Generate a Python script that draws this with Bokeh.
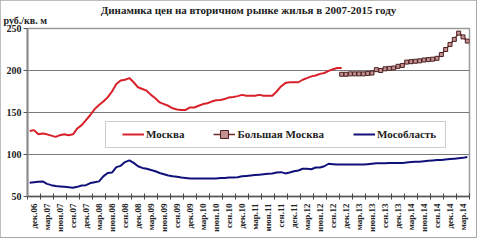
from bokeh.plotting import figure
from bokeh.models import (FixedTicker, Legend, LegendItem, Label, BoxAnnotation,
                          Range1d, ColumnDataSource, Title)
from bokeh.embed import file_html
from bokeh.resources import INLINE

# ---- data (roubles per sq. m, thousands), monthly from дек.06 ----
moscow = [128, 129, 124, 125, 124, 122.5, 121, 123, 124, 123,
          124, 131, 135, 141, 147, 154, 159, 163, 168, 175,
          184, 188, 189, 191, 186, 180, 178, 176, 171, 167,
          162, 160, 158, 155, 153.5, 153, 153, 156, 156, 158,
          160, 161, 163, 164.5, 165, 166, 168, 168.5, 169.5, 171,
          170, 170, 170, 171, 170, 170, 170, 175, 181, 185,
          186, 186, 186, 189, 191, 193, 194, 196, 197, 199.5,
          201.5, 203, 203]
big_moscow_start = 72
big_moscow = [195.5, 195.5, 196, 196, 196, 196, 196.5, 197, 201, 200,
              202, 202.5, 203, 205, 206, 210, 210.5, 211, 211.5, 212.5,
              213, 213.5, 214.5, 219, 225, 231, 237, 244.5, 240, 235]
oblast = [66.5, 67, 67.5, 68, 65, 63.5, 62.5, 62, 61.5, 61,
          60.5, 61.5, 63, 63.5, 66, 67, 68, 74, 78, 78.5,
          85, 86.5, 91, 93, 90, 86, 84, 83, 81.5, 80,
          78, 76.5, 75, 74, 73.5, 72.5, 72, 71.5, 71.5, 71.5,
          71.5, 71.5, 71.5, 71.5, 72, 72, 72.5, 72.5, 73, 74,
          74.5, 75, 75.5, 76, 76.5, 77, 77.5, 78.5, 79, 77.5,
          78.5, 80, 81, 83, 83, 82.5, 84.5, 84.5, 86, 89,
          88.5, 88, 88, 88, 88, 88, 88, 88, 88.5, 89,
          89.5, 89.5, 89.5, 90, 90, 90, 90, 90.5, 91, 91.5,
          91.5, 92, 92.5, 93, 93.5, 93.5, 94, 94.5, 95, 95.5,
          96, 97]
tick_labels = ["дек.06", "мар.07", "июн.07", "сен.07", "дек.07", "мар.08", "июн.08",
               "сен.08", "дек.08", "мар.09", "июн.09", "сен.09", "дек.09", "мар.10",
               "июн.10", "сен.10", "дек.10", "мар.11", "июн.11", "сен.11", "дек.11",
               "мар.12", "июн.12", "сен.12", "дек.12", "мар.13", "июн.13", "сен.13",
               "дек.13", "мар.14", "июн.14", "сен.14", "дек.14", "мар.14"]
y_ticks = [50, 100, 150, 200, 250]
series_names = ["Москва", "Большая Москва", "Мособласть"]
title_text = "Динамика цен на вторичном рынке жилья в 2007-2015 году"
unit_text = "руб./кв. м"

SERIF = "Liberation Serif, Times New Roman, serif"
n_months = len(oblast)

p = figure(width=476, height=237, output_backend="svg", toolbar_location=None,
           x_range=Range1d(0, n_months), y_range=Range1d(50, 250),
           min_border_left=27, min_border_right=7, min_border_top=27,
           min_border_bottom=41)
p.styles = {"outline": "2px solid #a8a8a8", "outline-offset": "-1px"}
p.background_fill_color = "white"
p.border_fill_color = "white"
p.outline_line_color = "#9a9a9a"
p.outline_line_width = 1.5

p.title = Title(text=title_text, align="center", text_font=SERIF,
                text_font_style="bold", text_font_size="11px",
                text_color="#222222", standoff=3)

src_m = ColumnDataSource(dict(x=[i + 0.5 for i in range(len(moscow))], y=moscow))
src_b = ColumnDataSource(dict(x=[big_moscow_start + i + 0.5 for i in range(len(big_moscow))],
                              y=big_moscow))
src_o = ColumnDataSource(dict(x=[i + 0.5 for i in range(len(oblast))], y=oblast))

# legend frame (drawn under the legend items)
box = BoxAnnotation(left=78, right=418, bottom=49, top=75,
                    left_units="screen", right_units="screen",
                    bottom_units="screen", top_units="screen",
                    fill_color="white", fill_alpha=1.0,
                    line_color="#555555", line_width=1)
p.add_layout(box)

r_m = p.line("x", "y", source=src_m, line_color="#d8202a", line_width=2)
r_o = p.line("x", "y", source=src_o, line_color="#10107a", line_width=2)
r_bl = p.line("x", "y", source=src_b, line_color="#6e2a2a", line_width=1.5)
r_bs = p.scatter("x", "y", source=src_b, marker="square", size=4,
                 fill_color="#c49090", line_color="#4a2020", line_width=1)

# axes
ticks_major = [3 * k + 1.5 for k in range(len(tick_labels))]
ticks_minor = [3 * k for k in range(len(tick_labels) + 1)]
xa = p.xaxis[0]
xa.ticker = FixedTicker(ticks=ticks_major, minor_ticks=ticks_minor)
xa.major_label_overrides = {t: lab for t, lab in zip(ticks_major, tick_labels)}
xa.major_label_orientation = 3.14159265 / 2
xa.major_tick_in = 0
xa.major_tick_out = 0
xa.minor_tick_in = 3
xa.minor_tick_out = 3
xa.minor_tick_line_color = "#444444"
xa.axis_line_color = "#555555"
xa.axis_line_width = 1.5
xa.major_label_text_font = SERIF
xa.major_label_text_font_style = "bold"
xa.major_label_text_font_size = "9px"
xa.major_label_text_color = "#222222"
xa.major_label_standoff = 4

ya = p.yaxis[0]
ya.ticker = FixedTicker(ticks=y_ticks, minor_ticks=[])
ya.major_tick_in = 0
ya.major_tick_out = 4
ya.major_tick_line_color = "#555555"
ya.axis_line_color = "#8c8c8c"
ya.axis_line_width = 2
ya.major_label_text_font = SERIF
ya.major_label_text_font_style = "bold"
ya.major_label_text_font_size = "10px"
ya.major_label_text_color = "#222222"
ya.major_label_standoff = 2

p.xgrid.visible = False
p.ygrid.ticker = FixedTicker(ticks=y_ticks[1:-1])
p.ygrid.grid_line_color = "#7a7a7a"
p.ygrid.grid_line_width = 1

# unit label, placed above the top-left corner of the frame
p.add_layout(Label(x=-24, y=8, x_units="screen", y_units="screen",
                   text=unit_text,
                   text_font=SERIF, text_font_style="bold", text_font_size="10px",
                   text_align="left", text_baseline="middle", text_color="#222222"),
             "above")

legend = Legend(items=[LegendItem(label=series_names[0], renderers=[r_m]),
                       LegendItem(label=series_names[1], renderers=[r_bl, r_bs]),
                       LegendItem(label=series_names[2], renderers=[r_o])],
                orientation="horizontal", location=(95, 52),
                padding=0, spacing=29, glyph_width=22, glyph_height=20,
                label_standoff=2, label_text_font=SERIF, label_text_font_style="bold",
                label_text_font_size="11px", label_text_color="#222222",
                border_line_alpha=0, background_fill_alpha=0, margin=0)
p.add_layout(legend, "center")

open("out.html", "w").write(file_html(p, INLINE))
